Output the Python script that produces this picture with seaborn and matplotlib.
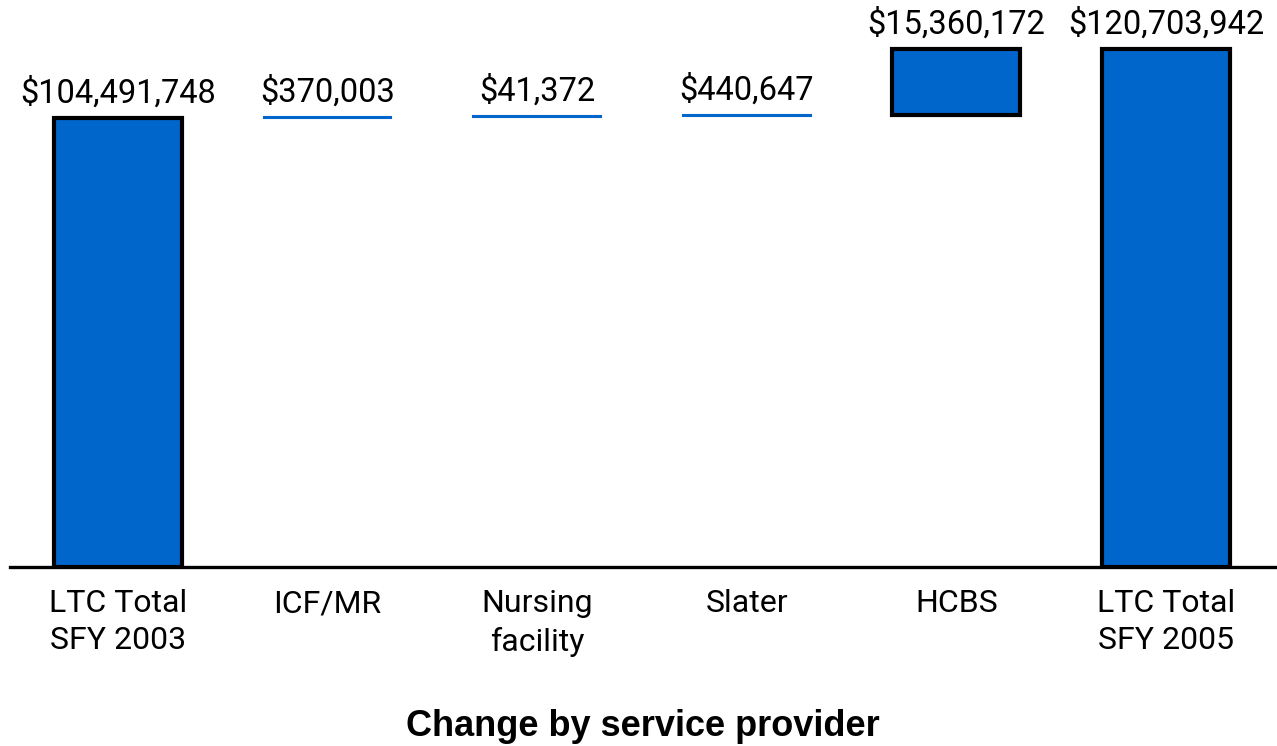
import numpy as np
import pandas as pd
import seaborn as sns
from matplotlib import pyplot as plt

categories = ['LTC Total\nSFY 2003', 'ICF/MR', 'Nursing\nfacility', 'Slater', 'HCBS', 'LTC Total\nSFY 2005']
values = [104491748, 370003, 41372, 440647, 15360172, 120703942]
is_total = [True, False, False, False, False, True]
value_labels = ['$104,491,748', '$370,003', '$41,372', '$440,647', '$15,360,172', '$120,703,942']

# waterfall: changes sit on top of the running total
bottoms = []
running = 0
for v, tot in zip(values, is_total):
    if tot:
        bottoms.append(0)
        running = v
    else:
        bottoms.append(running)
        running += v

df = pd.DataFrame({'category': categories, 'value': values})

sns.set_style('white')
plt.rcParams['font.family'] = ['Roboto', 'DejaVu Sans']
plt.rcParams['text.color'] = 'black'
plt.rcParams['xtick.color'] = 'black'

blue = '#0066cc'
fig = plt.figure(figsize=(12.77, 7.46), dpi=100)
ax = fig.add_axes([10 / 1277, 1 - 567 / 746, 1 - 10 / 1277, 567 / 746])

sns.barplot(data=df, x='category', y='value', order=categories, color=blue,
            width=0.61, bottom=bottoms, saturation=1, ax=ax)

for patch, tot, v in zip(ax.patches, is_total, values):
    patch.set_facecolor(blue)
    if tot or v > 5e6:
        patch.set_edgecolor('black')
        patch.set_linewidth(3)
    else:
        patch.set_edgecolor(blue)
        patch.set_linewidth(1.5)

ax.bar_label(ax.containers[0], labels=value_labels, padding=6, fontsize=23.5,
             color='black', family=['Roboto', 'DejaVu Sans'])

ax.set_xlim(-0.515, 5.53)
ax.set_ylim(0, 132e6)
ax.set_yticks([])
ax.set_ylabel('')
ax.set_xlabel('')
for s in ['top', 'left', 'right']:
    ax.spines[s].set_visible(False)
ax.spines['bottom'].set_linewidth(2.4)
ax.spines['bottom'].set_color('black')
ax.tick_params(axis='x', length=0, pad=16, colors='black')
ax.set_xticks(range(len(categories)))
ax.set_xticklabels(categories, fontsize=23, linespacing=1.35,
                   family=['Roboto', 'DejaVu Sans'])

fig.text(643 / 1277, 1 - 726 / 746, 'Change by service provider', ha='center', va='center',
         fontsize=26, fontweight='bold', color='black',
         family=['Liberation Sans', 'DejaVu Sans'])

fig.savefig('out.png', dpi=100)
